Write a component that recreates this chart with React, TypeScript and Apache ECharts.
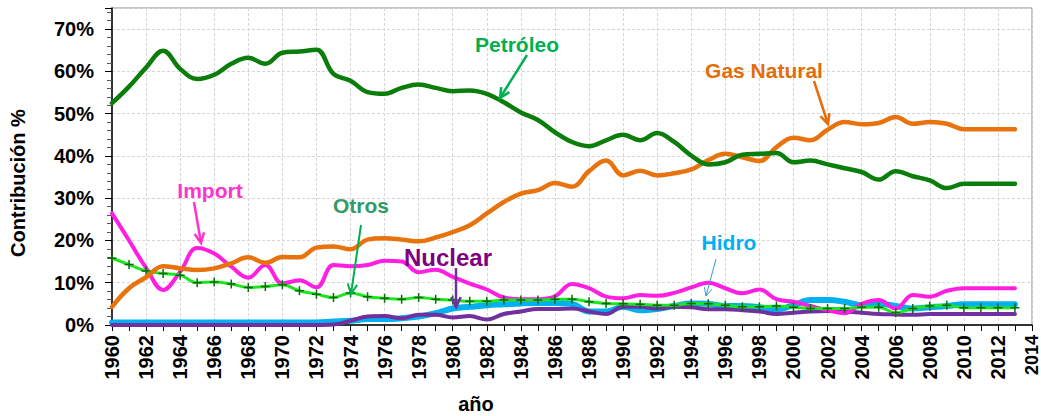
import React, { useEffect, useRef } from "react";
import * as echarts from "echarts";

const years: number[] = Array.from({ length: 54 }, (_, i) => 1960 + i);

const petroleo = [52.5, 56.4, 60.9, 64.9, 60.6, 58.2, 59.2, 61.8, 63.2, 61.8, 64.4, 64.7, 65.1, 59.4, 57.8, 55.1, 54.7, 56.1, 56.9, 56.1, 55.3, 55.5, 54.7, 52.7, 50.3, 48.5, 45.6, 43.3, 42.3, 43.7, 45.0, 43.7, 45.4, 43.3, 40.1, 38.0, 38.5, 40.3, 40.5, 40.7, 38.5, 38.9, 38.0, 37.1, 36.2, 34.4, 36.4, 35.2, 34.2, 32.4, 33.4, 33.4, 33.4, 33.4];
const gasNatural = [4.3, 8.7, 11.3, 13.9, 13.4, 13.0, 13.4, 14.6, 16.0, 14.7, 16.1, 16.0, 18.3, 18.6, 17.9, 20.2, 20.5, 20.2, 19.8, 20.7, 22.0, 23.6, 26.4, 29.1, 31.1, 31.9, 33.6, 32.7, 36.4, 38.9, 35.4, 36.5, 35.4, 35.9, 36.8, 39.0, 40.5, 39.7, 38.8, 42.1, 44.3, 43.7, 46.2, 48.0, 47.5, 47.8, 49.2, 47.6, 48.0, 47.6, 46.3, 46.3, 46.3, 46.3];
const importacion = [26.4, 20.0, 13.5, 8.3, 12.6, 18.2, 16.9, 13.8, 11.2, 14.2, 9.8, 10.6, 8.9, 14.2, 13.9, 14.2, 15.2, 15.0, 12.5, 13.1, 11.4, 9.8, 8.4, 6.5, 6.1, 6.1, 6.8, 9.7, 8.7, 6.7, 6.3, 7.1, 6.9, 7.6, 8.9, 10.0, 8.7, 7.5, 8.4, 6.1, 5.5, 4.5, 3.5, 2.8, 5.0, 5.9, 3.9, 7.1, 6.7, 8.1, 8.7, 8.7, 8.7, 8.7];
const otros = [15.8, 14.3, 12.8, 12.2, 11.8, 10.0, 10.2, 9.7, 8.9, 9.1, 9.5, 8.1, 7.3, 6.5, 7.6, 6.7, 6.3, 6.1, 6.5, 6.1, 5.9, 5.6, 5.6, 5.9, 5.9, 5.9, 6.1, 6.1, 5.5, 5.1, 5.0, 4.9, 4.7, 4.7, 5.1, 5.0, 4.7, 4.3, 4.3, 4.5, 4.2, 3.9, 3.9, 3.9, 4.2, 4.2, 2.9, 3.9, 4.5, 4.7, 4.1, 4.1, 4.1, 4.1];
const hidro = [0.6, 0.6, 0.6, 0.6, 0.6, 0.6, 0.6, 0.6, 0.6, 0.6, 0.6, 0.6, 0.6, 0.8, 1.0, 1.4, 1.4, 1.6, 2.0, 2.8, 3.9, 4.3, 4.7, 4.9, 5.1, 5.2, 5.2, 5.0, 3.2, 3.2, 4.3, 3.5, 3.8, 4.5, 5.1, 5.0, 4.5, 4.5, 4.2, 3.7, 4.7, 5.9, 5.9, 5.5, 4.7, 5.0, 4.5, 3.9, 4.2, 4.5, 4.9, 4.9, 4.9, 4.9];
const nuclear = [0, 0, 0, 0, 0, 0, 0, 0, 0, 0, 0, 0, 0, 0.1, 1.0, 2.0, 2.1, 1.6, 2.4, 2.4, 1.8, 2.1, 1.3, 2.6, 3.2, 3.8, 3.8, 3.9, 3.2, 2.6, 4.3, 4.3, 3.9, 4.3, 4.2, 3.7, 3.7, 3.5, 3.2, 2.6, 2.9, 3.2, 3.3, 3.2, 2.9, 2.6, 2.5, 2.4, 2.6, 2.6, 2.6, 2.6, 2.6, 2.6];

const FONT = "'Liberation Sans', Arial, sans-serif";

function pairs(vals: number[]) {
  return vals.map((v, i) => [years[i], v]);
}

function arrow(x1: number, y1: number, x2: number, y2: number, color: string, width: number, head = 11) {
  const ang = Math.atan2(y2 - y1, x2 - x1);
  const a = Math.PI / 7;
  const p1 = [x2 - head * Math.cos(ang - a), y2 - head * Math.sin(ang - a)];
  const p2 = [x2 - head * Math.cos(ang + a), y2 - head * Math.sin(ang + a)];
  return [
    { type: "line", shape: { x1, y1, x2, y2 }, style: { stroke: color, lineWidth: width }, z: 100 },
    { type: "polyline", shape: { points: [p1, [x2, y2], p2] }, style: { stroke: color, lineWidth: width, fill: null }, z: 100 },
  ];
}

function label(text: string, x: number, y: number, color: string, size = 21) {
  return {
    type: "text",
    x,
    y,
    z: 100,
    style: { text, fill: color, font: `bold ${size}px ${FONT}`, textAlign: "center", textVerticalAlign: "middle" },
  };
}

export default function App() {
  const ref = useRef<HTMLDivElement>(null);
  useEffect(() => {
    if (!ref.current) return;
    const chart = echarts.init(ref.current, undefined, { renderer: "svg" });
    const line = (name: string, data: number[], color: string, width: number, z: number, extra: any = {}) => ({
      name,
      type: "line",
      data: pairs(data),
      smooth: 0.4,
      showSymbol: false,
      symbol: "none",
      lineStyle: { color, width, cap: "round", join: "round" },
      itemStyle: { color },
      z,
      ...extra,
    });
    chart.setOption({
      animation: false,
      backgroundColor: "#ffffff",
      textStyle: { fontFamily: FONT },
      grid: {
        left: 112,
        right: 9,
        top: 8,
        bottom: 91,
        show: true,
        borderColor: "#8c8c8c",
        borderWidth: 1,
        containLabel: false,
        outerBoundsMode: "none",
      },
      xAxis: {
        type: "value",
        min: 1960,
        max: 2014,
        interval: 2,
        axisLine: { show: true, onZero: false, lineStyle: { color: "#000", width: 1.5 } },
        axisTick: { show: true, length: 6, lineStyle: { color: "#000" } },
        minorTick: { show: true, splitNumber: 2, length: 6, lineStyle: { color: "#000" } },
        axisLabel: {
          rotate: 90,
          margin: 10,
          fontSize: 20,
          lineHeight: 16,
          fontWeight: "bold",
          color: "#000",
          fontFamily: FONT,
          formatter: (v: number) => (v === 2014 ? `{e|${v}}` : String(v)),
          rich: { e: { fontSize: 18, lineHeight: 14, fontWeight: "bold", color: "#000", fontFamily: FONT } },
        },
        splitLine: { show: true, lineStyle: { color: "#d6d6d6", type: [3, 2] } },
      },
      yAxis: {
        type: "value",
        min: 0,
        max: 75,
        interval: 10,
        axisLine: { show: true, lineStyle: { color: "#000", width: 1.5 } },
        axisTick: { show: true, length: 7, lineStyle: { color: "#000" } },
        minorTick: { show: true, splitNumber: 5, length: 5, lineStyle: { color: "#555" } },
        axisLabel: {
          margin: 18,
          fontSize: 20,
          fontWeight: "bold",
          color: "#000",
          fontFamily: FONT,
          showMaxLabel: false,
          formatter: (v: number) => (v > 70 ? "" : `${v}%`),
        },
        splitLine: { show: true, lineStyle: { color: "#d6d6d6", type: [3, 2] } },
      },
      series: [
        line("Hidro", hidro, "#00b0f0", 6, 2),
        line("Nuclear", nuclear, "#7030a0", 4, 3),
        line("Import", importacion, "#ff1fe0", 4, 4),
        line("Otros", otros, "#1ee61e", 3, 5, {
          showSymbol: true,
          symbol: "path://M5,0 L5,10 M0,5 L10,5",
          symbolSize: 9,
          itemStyle: { color: "none", borderColor: "#0b6b0b", borderWidth: 1.5 },
        }),
        line("Gas Natural", gasNatural, "#e8720c", 4.5, 6),
        line("Petróleo", petroleo, "#0a7d0a", 4.5, 7),
      ],
      graphic: [
        {
          type: "text",
          x: 18,
          y: 183,
          rotation: Math.PI / 2,
          z: 100,
          style: { text: "Contribución %", fill: "#000", font: `bold 20px ${FONT}`, textAlign: "center", textVerticalAlign: "middle" },
        },
        {
          type: "text",
          x: 476,
          y: 404,
          z: 100,
          style: { text: "año", fill: "#000", font: `bold 20px ${FONT}`, textAlign: "center", textVerticalAlign: "middle" },
        },
        label("Petróleo", 517, 44, "#00b050"),
        ...arrow(527, 55, 500, 98, "#00b050", 2.5),
        label("Gas Natural", 764, 70, "#e46c0a"),
        ...arrow(814, 81, 828, 124, "#e46c0a", 2.5),
        label("Import", 210, 190, "#ff33cc"),
        ...arrow(194, 202, 201, 243, "#ff33cc", 2.5),
        label("Otros", 361, 205, "#339966"),
        ...arrow(361, 225, 351, 294, "#00b050", 2),
        label("Nuclear", 448, 257, "#800080", 24),
        ...arrow(456, 268, 456, 307, "#7030a0", 2.5),
        label("Hidro", 729, 242, "#00b0f0"),
        ...arrow(716, 259, 706, 296, "#31a0c8", 1, 9),
      ],
    });
    return () => chart.dispose();
  }, []);
  return <div ref={ref} style={{ position: "fixed", left: 0, top: 0, width: 1041, height: 416 }} />;
}
